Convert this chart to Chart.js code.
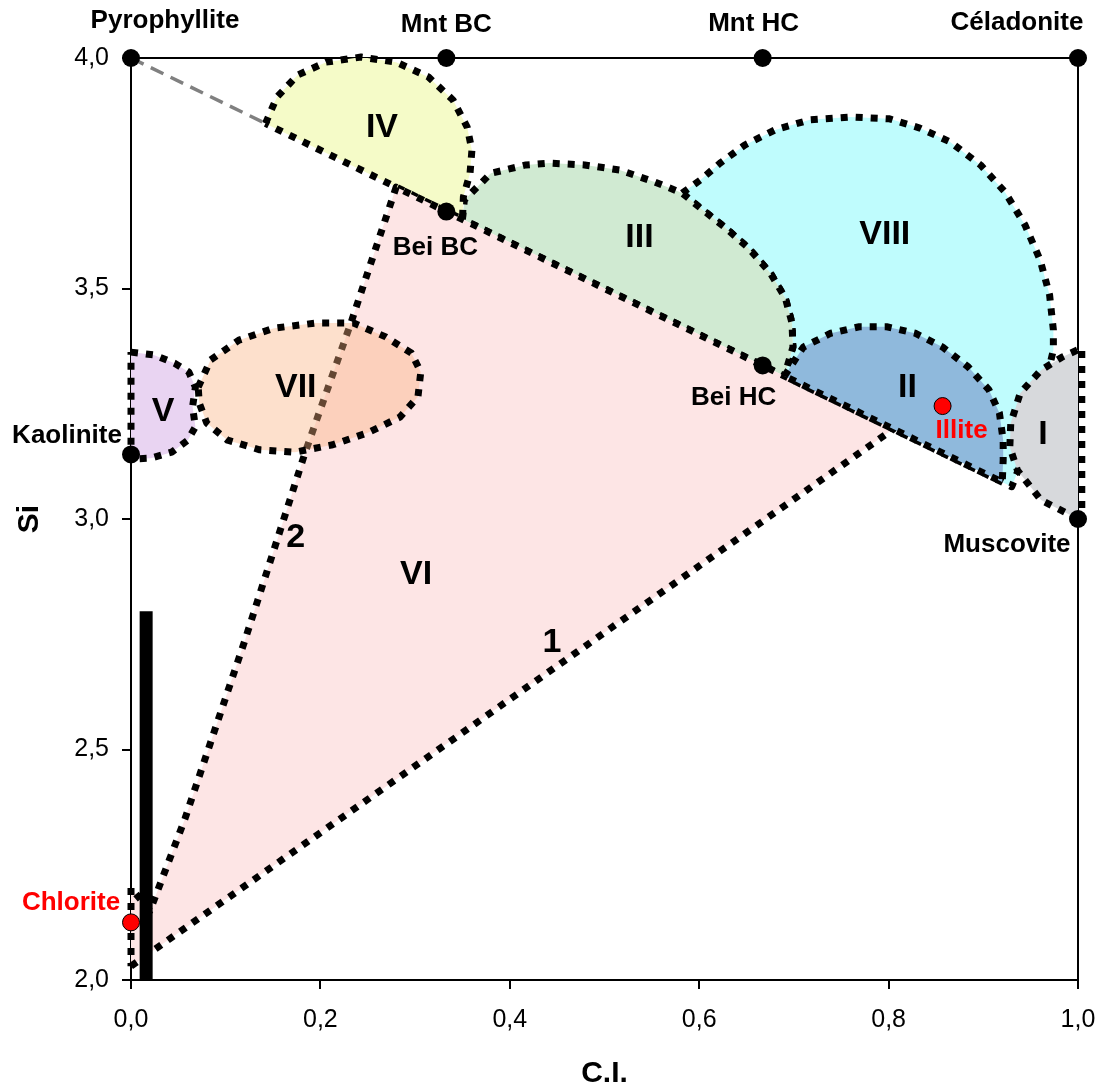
<!DOCTYPE html>
<html>
<head>
<meta charset="utf-8">
<script src="https://cdn.jsdelivr.net/npm/chart.js@4.4.1/dist/chart.umd.min.js"></script>
<style>
  html, body { margin: 0; padding: 0; background: #fff; }
  canvas { display: block; }
</style>
</head>
<body>
<canvas id="chart" width="1101" height="1092"></canvas>
<script>
// mineral end members (black dots)
const pointNames = ['Pyrophyllite', 'Mnt BC', 'Mnt HC', 'Céladonite', 'Bei BC', 'Bei HC', 'Muscovite', 'Kaolinite'];
const pointCI = [0, 0.333, 0.667, 1.0, 0.333, 0.667, 1.0, 0];
const pointSi = [4.0, 4.0, 4.0, 4.0, 3.667, 3.333, 3.0, 3.14];

// red dots
const redNames = ['Illite', 'Chlorite'];
const redCI = [0.857, 0];
const redSi = [3.245, 2.125];

// region labels
const regionNames = ['I', 'II', 'III', 'IV', 'V', 'VI', 'VII', 'VIII', '1', '2'];
const regionCI = [0.963, 0.820, 0.537, 0.265, 0.034, 0.301, 0.174, 0.796, 0.4445, 0.174];
const regionSi = [3.182, 3.286, 3.610, 3.848, 3.232, 2.879, 3.284, 3.616, 2.731, 2.959];

// field outlines
const zoneI_CI = [1.0, 0.961, 0.936, 0.928, 0.929, 0.939, 0.961, 0.983, 1.004, 1.004, 1.0];
const zoneI_Si = [3.0, 3.041, 3.106, 3.156, 3.208, 3.273, 3.323, 3.351, 3.371, 3.0, 3.0];

const zoneII_CI = [0.69, 0.710, 0.739, 0.769, 0.798, 0.828, 0.857, 0.884, 0.906, 0.917, 0.921, 0.921, 0.92, 0.69];
const zoneII_Si = [3.31, 3.373, 3.403, 3.417, 3.417, 3.403, 3.373, 3.330, 3.280, 3.230, 3.171, 3.128, 3.08, 3.31];

const zoneIII_CI = [0.35, 0.352, 0.380, 0.417, 0.442, 0.479, 0.516, 0.553, 0.582, 0.601, 0.627, 0.652, 0.675, 0.691, 0.698, 0.699, 0.69, 0.35];
const zoneIII_Si = [3.65, 3.692, 3.750, 3.768, 3.772, 3.768, 3.757, 3.731, 3.707, 3.675, 3.633, 3.588, 3.534, 3.479, 3.425, 3.373, 3.31, 3.65];

const zoneIV_CI = [0.142, 0.154, 0.176, 0.206, 0.243, 0.280, 0.314, 0.340, 0.355, 0.360, 0.358, 0.351, 0.35, 0.142];
const zoneIV_Si = [3.858, 3.915, 3.963, 3.991, 4.002, 3.991, 3.959, 3.909, 3.850, 3.800, 3.750, 3.699, 3.65, 3.858];

const zoneV_CI = [0, 0.024, 0.046, 0.061, 0.068, 0.065, 0.068, 0.060, 0.043, 0.021, 0, 0];
const zoneV_Si = [3.362, 3.356, 3.338, 3.319, 3.286, 3.243, 3.200, 3.171, 3.145, 3.132, 3.130, 3.362];

const zoneVI_CI = [0, 0.805, 0.28, 0.233, 0.184, 0.120, 0.057, 0.02, 0, 0];
const zoneVI_Si = [2.03, 3.195, 3.72, 3.43, 3.145, 2.735, 2.35, 2.15, 2.2, 2.03];

const zoneVII_CI = [0.071, 0.084, 0.114, 0.151, 0.195, 0.235, 0.269, 0.296, 0.306, 0.303, 0.284, 0.250, 0.213, 0.173, 0.136, 0.102, 0.080, 0.072, 0.071];
const zoneVII_Si = [3.286, 3.345, 3.388, 3.414, 3.425, 3.425, 3.395, 3.360, 3.319, 3.265, 3.221, 3.187, 3.161, 3.145, 3.150, 3.171, 3.208, 3.252, 3.286];

const zoneVIII_CI = [0.582, 0.601, 0.622, 0.648, 0.680, 0.717, 0.759, 0.801, 0.833, 0.865, 0.897, 0.923, 0.944, 0.960, 0.970, 0.974, 0.974,
  0.955, 0.93, 0.69, 0.699, 0.698, 0.691, 0.675, 0.652, 0.627, 0.601, 0.582];
const zoneVIII_Si = [3.707, 3.735, 3.772, 3.811, 3.844, 3.866, 3.872, 3.868, 3.848, 3.818, 3.768, 3.709, 3.638, 3.562, 3.486, 3.410, 3.367,
  3.2, 3.07, 3.31, 3.373, 3.425, 3.479, 3.534, 3.588, 3.633, 3.675, 3.707];

// dashed Pyrophyllite-Muscovite start and the thick bar
const dashCI = [0, 0.142];
const dashSi = [4.0, 3.858];
const barCI = [0.016, 0.016];
const barSi = [2.0, 2.8];

const FONT = '"Liberation Sans", Arial, sans-serif';
Chart.defaults.font.family = FONT;
Chart.defaults.color = '#000';

function pts(xs, ys) {
  return xs.map((v, i) => ({ x: v, y: ys[i] }));
}

function zone(xs, ys, color, order) {
  return {
    type: 'scatter',
    data: pts(xs, ys),
    showLine: true,
    fill: 'shape',
    backgroundColor: color,
    borderColor: '#000',
    borderWidth: 7,
    borderDash: [7, 8],
    borderCapStyle: 'butt',
    borderJoinStyle: 'round',
    pointRadius: 0,
    tension: 0,
    clip: false,
    order: order,
  };
}

// pixel offsets of the name labels from their dot
const nameOffsets = {
  'Pyrophyllite': [34, -37], 'Mnt BC': [0, -33], 'Mnt HC': [-9, -34], 'Céladonite': [-61, -35],
  'Bei BC': [-11, 36], 'Bei HC': [-29, 32], 'Muscovite': [-71, 26], 'Kaolinite': [-64, -19],
  'Illite': [19, 25], 'Chlorite': [-60, -20],
};

const framePlugin = {
  id: 'frame',
  beforeDatasetsDraw(chart) {
    const { ctx, chartArea: a } = chart;
    ctx.save();
    ctx.strokeStyle = '#000';
    ctx.lineWidth = 2;
    ctx.beginPath();
    ctx.moveTo(a.left, a.top);
    ctx.lineTo(a.right, a.top);
    ctx.lineTo(a.right, a.bottom);
    ctx.stroke();
    ctx.restore();
  }
};

const labelPlugin = {
  id: 'labels',
  afterDatasetsDraw(chart) {
    const { ctx, scales: { x, y } } = chart;
    ctx.save();
    ctx.textAlign = 'center';
    ctx.textBaseline = 'middle';
    ctx.fillStyle = '#000';
    ctx.font = 'bold 34px ' + FONT;
    regionNames.forEach((t, i) => {
      ctx.fillText(t, x.getPixelForValue(regionCI[i]), y.getPixelForValue(regionSi[i]));
    });
    ctx.font = 'bold 26px ' + FONT;
    pointNames.forEach((t, i) => {
      const o = nameOffsets[t];
      ctx.fillText(t, x.getPixelForValue(pointCI[i]) + o[0], y.getPixelForValue(pointSi[i]) + o[1]);
    });
    ctx.fillStyle = '#ff0000';
    redNames.forEach((t, i) => {
      const o = nameOffsets[t];
      ctx.fillText(t, x.getPixelForValue(redCI[i]) + o[0], y.getPixelForValue(redSi[i]) + o[1]);
    });
    ctx.restore();
  }
};

const commaFmt = v => Number(v).toFixed(1).replace('.', ',');

new Chart(document.getElementById('chart'), {
  type: 'scatter',
  data: {
    datasets: [
      {
        data: pts(pointCI, pointSi),
        pointRadius: 9,
        pointBackgroundColor: '#000',
        pointBorderColor: '#000',
        pointBorderWidth: 0,
        showLine: false,
        clip: false,
        order: 0,
      },
      {
        data: pts(redCI, redSi),
        pointRadius: 8.5,
        pointBackgroundColor: '#ff0000',
        pointBorderColor: '#000',
        pointBorderWidth: 1,
        showLine: false,
        clip: false,
        order: 0,
      },
      {
        data: pts(barCI, barSi),
        showLine: true,
        borderColor: '#000',
        borderWidth: 13,
        borderCapStyle: 'butt',
        pointRadius: 0,
        clip: false,
        order: 1,
      },
      {
        data: pts(dashCI, dashSi),
        showLine: true,
        borderColor: '#808080',
        borderWidth: 3.5,
        borderDash: [14, 8],
        pointRadius: 0,
        clip: false,
        order: 2,
      },
      zone(zoneI_CI, zoneI_Si, '#d7d9dc', 3),
      zone(zoneII_CI, zoneII_Si, '#8fb9dc', 4),
      zone(zoneV_CI, zoneV_Si, '#e9d4f2', 5),
      zone(zoneVII_CI, zoneVII_Si, 'rgba(250,178,128,0.4)', 6),
      zone(zoneVI_CI, zoneVI_Si, '#fde5e5', 7),
      zone(zoneIV_CI, zoneIV_Si, '#f5fbc8', 8),
      zone(zoneIII_CI, zoneIII_Si, '#d0ead2', 9),
      zone(zoneVIII_CI, zoneVIII_Si, '#bffcfd', 10),
    ]
  },
  options: {
    responsive: false,
    animation: false,
    layout: { padding: { top: 58, right: 23, left: 0, bottom: 0 } },
    plugins: {
      legend: { display: false },
      tooltip: { enabled: false },
    },
    scales: {
      x: {
        type: 'linear',
        min: 0,
        max: 1,
        afterFit: s => { s.height = 112; s.paddingLeft = 0; s.paddingRight = 0; },
        ticks: { stepSize: 0.2, padding: 16, font: { size: 25 }, color: '#000', callback: commaFmt },
        grid: { drawOnChartArea: false, drawTicks: true, tickLength: 9, color: '#000', lineWidth: 2 },
        border: { display: true, color: '#000', width: 2 },
        title: { display: true, text: 'C.I.', font: { size: 30, weight: 'bold' }, color: '#000', padding: { top: 0, bottom: 0 } },
      },
      y: {
        type: 'linear',
        min: 2,
        max: 4,
        afterFit: s => { s.width = 131; s.paddingTop = 0; s.paddingBottom = 0; },
        ticks: { stepSize: 0.5, padding: 13, font: { size: 25 }, color: '#000', callback: commaFmt },
        grid: { drawOnChartArea: false, drawTicks: true, tickLength: 9, color: '#000', lineWidth: 2 },
        border: { display: true, color: '#000', width: 2 },
        title: { display: true, text: 'Si', font: { size: 30, weight: 'bold' }, color: '#000', padding: { top: 12, bottom: 0 } },
      },
    },
  },
  plugins: [framePlugin, labelPlugin],
});
</script>
</body>
</html>
